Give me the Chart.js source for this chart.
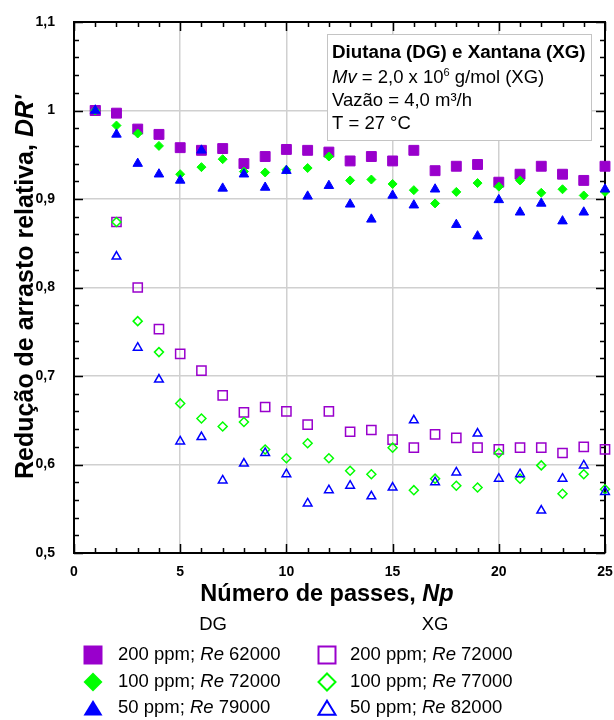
<!DOCTYPE html>
<html>
<head>
<meta charset="utf-8">
<script src="https://cdn.jsdelivr.net/npm/chart.js@4.4.1/dist/chart.umd.min.js"></script>
<style>
  html, body { margin: 0; padding: 0; background: #fff; }
</style>
</head>
<body>
<canvas id="grafico" width="614" height="720"></canvas>
<script>
// dados
const passes = [1, 2, 3, 4, 5, 6, 7, 8, 9, 10, 11, 12, 13, 14, 15, 16, 17, 18, 19, 20, 21, 22, 23, 24, 25];

// DG (simbolos cheios)
const dg200 = [1.000, 0.997, 0.979, 0.973, 0.958, 0.955, 0.957, 0.940, 0.948, 0.956, 0.955, 0.953, 0.943, 0.948, 0.943, 0.955, 0.932, 0.937, 0.939, 0.919, 0.928, 0.937, 0.928, 0.921, 0.937];
const dg100 = [1.000, 0.983, 0.974, 0.960, 0.928, 0.936, 0.945, 0.931, 0.930, 0.933, 0.935, 0.948, 0.921, 0.922, 0.917, 0.910, 0.895, 0.908, 0.918, 0.914, 0.921, 0.907, 0.911, 0.904, 0.908];
const dg50 = [1.000, 0.973, 0.940, 0.928, 0.921, 0.955, 0.912, 0.928, 0.913, 0.932, 0.903, 0.915, 0.894, 0.877, 0.904, 0.893, 0.911, 0.871, 0.858, 0.899, 0.885, 0.895, 0.875, 0.885, 0.911];

// XG (simbolos vazados)
const xg200 = [1.000, 0.874, 0.800, 0.753, 0.725, 0.706, 0.678, 0.659, 0.665, 0.660, 0.645, 0.660, 0.637, 0.639, 0.628, 0.619, 0.634, 0.630, 0.619, 0.617, 0.619, 0.619, 0.613, 0.620, 0.617];
const xg100 = [1.000, 0.874, 0.762, 0.727, 0.669, 0.652, 0.643, 0.648, 0.617, 0.607, 0.624, 0.607, 0.593, 0.589, 0.619, 0.571, 0.584, 0.576, 0.574, 0.613, 0.584, 0.599, 0.567, 0.589, 0.572];
const xg50 = [1.000, 0.835, 0.732, 0.696, 0.626, 0.631, 0.582, 0.601, 0.613, 0.589, 0.556, 0.571, 0.576, 0.564, 0.574, 0.650, 0.580, 0.591, 0.635, 0.584, 0.589, 0.548, 0.584, 0.599, 0.569];

const legendDG = ['200 ppm; |Re| 62000', '100 ppm; |Re| 72000', '50 ppm; |Re| 79000'];
const legendXG = ['200 ppm; |Re| 72000', '100 ppm; |Re| 77000', '50 ppm; |Re| 82000'];

const FONT = '"Liberation Sans", Arial, sans-serif';
const ROXO = '#9900cc', VERDE = '#00ff00', AZUL = '#0000ff';

const pts = ys => passes.map((x, i) => ({ x: x, y: ys[i] }));

// texto com trechos de fontes diferentes
function runs(ctx, parts, x, y, align) {
  let total = 0;
  parts.forEach(p => { ctx.font = p.f; p.w = ctx.measureText(p.t).width; total += p.w; });
  let cx = align === 'center' ? x - total / 2 : x;
  parts.forEach(p => { ctx.font = p.f; ctx.fillText(p.t, cx, y + (p.dy || 0)); cx += p.w; });
}

function marcador(ctx, tipo, cheio, cor, x, y) {
  ctx.beginPath();
  if (tipo === 'q') {
    if (cheio) ctx.rect(x - 9.5, y - 9.5, 19, 19); else ctx.rect(x - 8.5, y - 8.5, 17, 17);
  } else if (tipo === 'd') {
    const r = cheio ? 9.5 : 8.5;
    ctx.moveTo(x, y - r); ctx.lineTo(x + r, y); ctx.lineTo(x, y + r); ctx.lineTo(x - r, y); ctx.closePath();
  } else {
    const r = cheio ? 9.5 : 8.5;
    ctx.moveTo(x, y - r * 0.85); ctx.lineTo(x + r, y + r * 0.8); ctx.lineTo(x - r, y + r * 0.8); ctx.closePath();
  }
  if (cheio) { ctx.fillStyle = cor; ctx.fill(); }
  else { ctx.strokeStyle = cor; ctx.lineWidth = 2; ctx.stroke(); }
}

const extras = {
  id: 'extras',
  beforeDatasetsDraw(chart) {
    const ctx = chart.ctx, a = chart.chartArea;
    const xs = chart.scales.x, ys = chart.scales.y;
    ctx.save();
    ctx.strokeStyle = '#000';
    ctx.lineWidth = 2;
    ctx.beginPath();
    ctx.moveTo(a.left, a.top); ctx.lineTo(a.right, a.top); ctx.lineTo(a.right, a.bottom);
    ctx.stroke();

    // ticks para dentro
    ctx.lineWidth = 1.5;
    ctx.beginPath();
    for (let v = 0; v <= 25; v++) {
      const px = Math.round(xs.getPixelForValue(v)) + 0.5;
      const len = v % 5 === 0 ? 9 : 5;
      ctx.moveTo(px, a.bottom); ctx.lineTo(px, a.bottom - len);
      ctx.moveTo(px, a.top); ctx.lineTo(px, a.top + len);
    }
    for (let i = 0; i <= 30; i++) {
      const py = Math.round(ys.getPixelForValue(0.5 + i * 0.02)) + 0.5;
      const len = i % 5 === 0 ? 9 : 5;
      ctx.moveTo(a.left, py); ctx.lineTo(a.left + len, py);
      ctx.moveTo(a.right, py); ctx.lineTo(a.right - len, py);
    }
    ctx.stroke();

    // caixa de texto
    ctx.fillStyle = '#fff';
    ctx.fillRect(327, 34, 265, 107);
    ctx.strokeStyle = '#c4c4c4';
    ctx.lineWidth = 1;
    ctx.strokeRect(327.5, 34.5, 264, 106);
    ctx.fillStyle = '#000';
    ctx.textBaseline = 'middle';
    ctx.textAlign = 'left';
    const reg = '18.5px ' + FONT;
    runs(ctx, [{ t: 'Diutana (DG) e Xantana (XG)', f: 'bold 18.8px ' + FONT }], 332, 53);
    runs(ctx, [
      { t: 'Mv', f: 'italic 18.5px ' + FONT },
      { t: ' = 2,0 x 10', f: reg },
      { t: '6', f: '11px ' + FONT, dy: -5 },
      { t: ' g/mol (XG)', f: reg }
    ], 332, 78);
    runs(ctx, [{ t: 'Vazão = 4,0 m³/h', f: reg }], 332, 101);
    runs(ctx, [{ t: 'T = 27 °C', f: reg }], 332, 124);
    ctx.restore();
  },
  afterDraw(chart) {
    const ctx = chart.ctx;
    ctx.save();
    ctx.fillStyle = '#000';
    ctx.textBaseline = 'middle';
    ctx.textAlign = 'left';

    // titulos dos eixos
    runs(ctx, [
      { t: 'Número de passes, ', f: 'bold 23.5px ' + FONT },
      { t: 'Np', f: 'italic bold 23.5px ' + FONT }
    ], 327, 595, 'center');
    ctx.save();
    ctx.translate(26, 287);
    ctx.rotate(-Math.PI / 2);
    runs(ctx, [
      { t: 'Redução de arrasto relativa, ', f: 'bold 25px ' + FONT },
      { t: "DR'", f: 'italic bold 25px ' + FONT }
    ], 0, 0, 'center');
    ctx.restore();

    // legenda
    const reg = '18.5px ' + FONT, ita = 'italic 18.5px ' + FONT;
    ctx.fillStyle = '#000';
    runs(ctx, [{ t: 'DG', f: reg }], 213, 625, 'center');
    runs(ctx, [{ t: 'XG', f: reg }], 435, 625, 'center');
    const linhas = [655, 682, 708];
    const tipos = ['q', 'd', 't'];
    const cores = [ROXO, VERDE, AZUL];
    linhas.forEach((y, i) => {
      marcador(ctx, tipos[i], true, cores[i], 93, y);
      marcador(ctx, tipos[i], false, cores[i], 327, y);
      ctx.fillStyle = '#000';
      const a = legendDG[i].split('|'), b = legendXG[i].split('|');
      runs(ctx, [{ t: a[0], f: reg }, { t: a[1], f: ita }, { t: a[2], f: reg }], 118, y);
      runs(ctx, [{ t: b[0], f: reg }, { t: b[1], f: ita }, { t: b[2], f: reg }], 350, y);
    });
    ctx.restore();
  }
};

const serie = (ys, estilo, raio, cor, cheio, ordem) => ({
  data: pts(ys),
  pointStyle: estilo,
  pointRadius: raio,
  pointBackgroundColor: cheio ? cor : 'rgba(0,0,0,0)',
  pointBorderColor: cor,
  pointBorderWidth: cheio ? 1 : 1.5,
  showLine: false,
  clip: false,
  order: ordem
});

// tira o padding automatico dos eixos pra area ficar fixa
const semPadding = s => { s.paddingLeft = 0; s.paddingRight = 0; s.paddingTop = 0; s.paddingBottom = 0; };

new Chart(document.getElementById('grafico'), {
  type: 'scatter',
  data: {
    datasets: [
      serie(dg200, 'rect', 7, ROXO, true, 3),
      serie(dg100, 'rectRot', 4.5, VERDE, true, 2),
      serie(dg50, 'triangle', 5.5, AZUL, true, 1),
      serie(xg200, 'rect', 6.5, ROXO, false, 6),
      serie(xg100, 'rectRot', 4.5, VERDE, false, 5),
      serie(xg50, 'triangle', 5, AZUL, false, 4)
    ]
  },
  options: {
    responsive: false,
    animation: false,
    devicePixelRatio: 1,
    events: [],
    layout: { autoPadding: false, padding: { left: 0, top: 22, right: 9, bottom: 137 } },
    plugins: { legend: { display: false }, tooltip: { enabled: false } },
    scales: {
      x: {
        type: 'linear', min: 0, max: 25,
        ticks: { stepSize: 5, color: '#000', padding: 11, font: { family: FONT, size: 14, weight: 'bold' } },
        grid: { color: '#d0d0d0', lineWidth: 1.5, drawTicks: false },
        border: { color: '#000', width: 2 },
        afterFit: s => { s.height = 30; semPadding(s); }
      },
      y: {
        min: 0.5, max: 1.1,
        ticks: {
          stepSize: 0.1, color: '#000', padding: 19,
          font: { family: FONT, size: 14, weight: 'bold' },
          callback: v => String(Math.round(v * 10) / 10).replace('.', ',')
        },
        grid: { color: '#d0d0d0', lineWidth: 1.5, drawTicks: false },
        border: { color: '#000', width: 2 },
        afterFit: s => { s.width = 74; semPadding(s); }
      }
    }
  },
  plugins: [extras]
});
</script>
</body>
</html>
